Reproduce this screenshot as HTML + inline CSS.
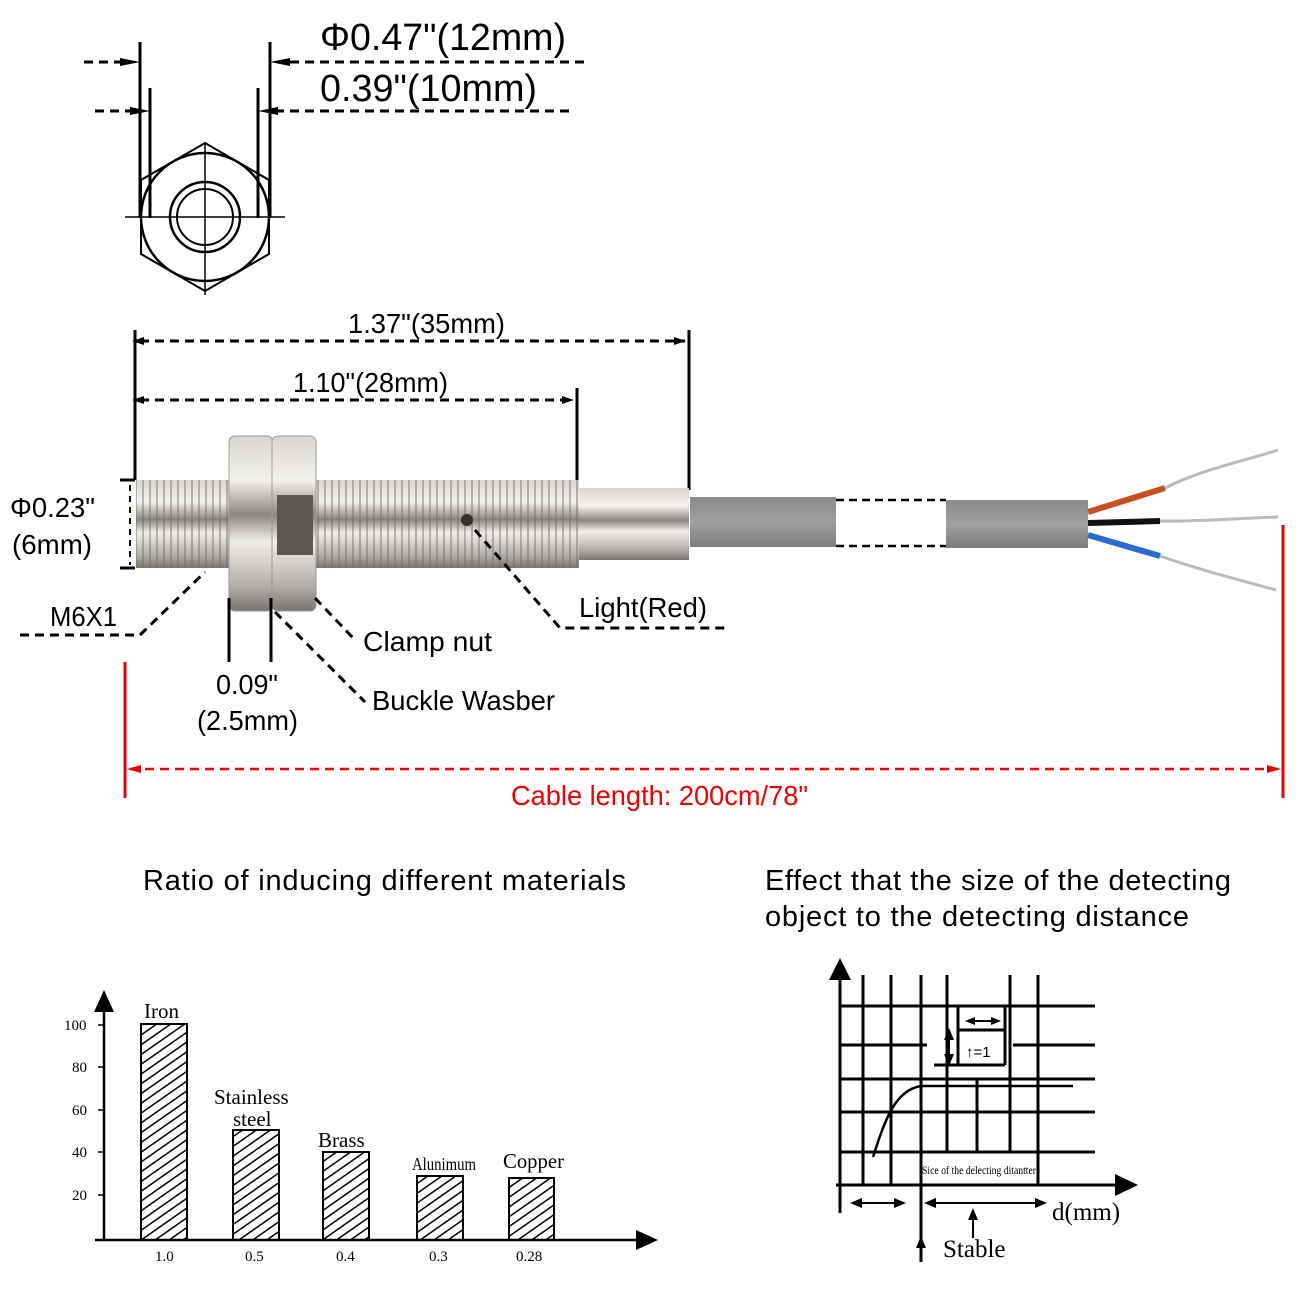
<!DOCTYPE html>
<html><head><meta charset="utf-8"><style>
body{margin:0;background:#fff}
svg{display:block}
.s{font-family:"Liberation Sans",sans-serif}
.r{font-family:"Liberation Serif",serif}
</style></head><body>
<svg width="1300" height="1300" viewBox="0 0 1300 1300" xmlns="http://www.w3.org/2000/svg">
<defs>
<pattern id="h" width="8" height="8" patternUnits="userSpaceOnUse" patternTransform="rotate(55)"><line x1="0" y1="0" x2="0" y2="8" stroke="#000" stroke-width="3"/></pattern>
<linearGradient id="m" x1="0" y1="0" x2="0" y2="1">
<stop offset="0" stop-color="#d8d5d0"/><stop offset="0.25" stop-color="#f4f2ee"/><stop offset="0.45" stop-color="#8a8580"/><stop offset="0.6" stop-color="#f0eee9"/><stop offset="0.85" stop-color="#b5b0aa"/><stop offset="1" stop-color="#7a7570"/></linearGradient>
<pattern id="th" width="7" height="100" patternUnits="userSpaceOnUse"><line x1="3" y1="0" x2="3" y2="100" stroke="#6e6a66" stroke-width="1.5" opacity="0.6"/></pattern>
<linearGradient id="c" x1="0" y1="0" x2="0" y2="1"><stop offset="0" stop-color="#8a8a8a"/><stop offset="0.5" stop-color="#a0a0a0"/><stop offset="1" stop-color="#7d7d7d"/></linearGradient>
</defs>
<g stroke="#000" stroke-width="3" fill="none">
<line x1="140" y1="42" x2="140" y2="218"/><line x1="270" y1="42" x2="270" y2="218"/>
<line x1="150" y1="88" x2="150" y2="218"/><line x1="258" y1="88" x2="258" y2="218"/>
<line x1="84" y1="62" x2="130" y2="62" stroke-dasharray="9,6"/>
<line x1="290" y1="62" x2="588" y2="62" stroke-dasharray="9,6"/>
<line x1="95" y1="111" x2="140" y2="111" stroke-dasharray="9,6"/>
<line x1="275" y1="111" x2="572" y2="111" stroke-dasharray="9,6"/>
<polygon points="205,143 269,180 269,254 205,291 141,254 141,180" stroke-width="2"/>
<circle cx="205" cy="217" r="64" stroke-width="2.5"/>
<circle cx="205" cy="217" r="35" stroke-width="2.5"/>
<circle cx="205" cy="217" r="28" stroke-width="2"/>
<line x1="125" y1="217" x2="285" y2="217" stroke-width="1.5"/><line x1="205" y1="143" x2="205" y2="295" stroke-width="1.5"/>
<line x1="135" y1="330" x2="135" y2="480"/><line x1="689" y1="330" x2="689" y2="490"/><line x1="577" y1="388" x2="577" y2="485"/>
<line x1="140" y1="341" x2="685" y2="341" stroke-dasharray="9,6"/>
<line x1="140" y1="400" x2="572" y2="400" stroke-dasharray="9,6"/>
<line x1="120" y1="480" x2="135" y2="480"/><line x1="120" y1="568" x2="135" y2="568"/>
<line x1="130" y1="485" x2="130" y2="565" stroke-dasharray="6,5" stroke-width="2"/>
</g>
<g fill="#000"><polygon points="132,341 144,337 144,345"/><polygon points="686,341 674,337 674,345"/>
<polygon points="132,400 144,396 144,404"/><polygon points="574,400 562,396 562,404"/>
<polygon points="140,62 120,58 120,66"/><polygon points="270,62 290,58 290,66"/>
<polygon points="150,111 130,107 130,115"/><polygon points="258,111 278,107 278,115"/></g>
<rect x="136" y="480" width="443" height="88" fill="url(#m)"/>
<rect x="136" y="480" width="443" height="88" fill="url(#th)"/>
<rect x="579" y="488" width="110" height="72" fill="url(#m)"/>
<rect x="229" y="436" width="44" height="175" rx="6" fill="url(#m)" stroke="#999"/>
<rect x="272" y="436" width="44" height="175" rx="6" fill="url(#m)" stroke="#999"/>
<rect x="277" y="495" width="36" height="60" fill="#5a5754"/>
<circle cx="467" cy="520" r="6" fill="#333"/>
<rect x="690" y="497" width="146" height="50" fill="url(#c)"/>
<rect x="946" y="500" width="142" height="48" fill="url(#c)"/>
<g stroke="#000" stroke-width="2.5" stroke-dasharray="8,5"><line x1="836" y1="500" x2="946" y2="500"/><line x1="836" y1="546" x2="946" y2="546"/></g>
<g stroke-width="6" fill="none"><path d="M1088,512 L1165,488" stroke="#c4521e"/><path d="M1088,523 L1160,521" stroke="#111"/><path d="M1088,535 L1160,556" stroke="#2a6ad0"/></g>
<g stroke="#bbb" stroke-width="3" fill="none"><path d="M1165,488 C1200,470 1240,462 1278,450"/><path d="M1160,521 C1200,522 1240,518 1278,517"/><path d="M1160,556 C1200,570 1240,580 1276,590"/></g>
<g stroke="#000" stroke-width="3" fill="none" stroke-dasharray="9,6">
<polyline points="20,635 140,635 205,572"/>
<line x1="315" y1="598" x2="355" y2="640"/>
<line x1="275" y1="612" x2="365" y2="702"/>
<polyline points="475,530 560,628 728,628"/>
</g>
<g stroke="#000" stroke-width="3"><line x1="229" y1="598" x2="229" y2="662"/><line x1="271" y1="598" x2="271" y2="662"/></g>
<g stroke="#e00" stroke-width="3"><line x1="125" y1="662" x2="125" y2="798"/><line x1="1283" y1="525" x2="1283" y2="798"/>
<line x1="130" y1="769" x2="1278" y2="769" stroke-dasharray="9,6" stroke-width="2.5"/></g>
<g fill="#e00"><polygon points="127,769 141,765 141,773"/><polygon points="1281,769 1267,765 1267,773"/></g>
<g class="s" font-size="38"><text x="320" y="50" textLength="246" lengthAdjust="spacingAndGlyphs">Φ0.47"(12mm)</text><text x="320" y="101" textLength="217" lengthAdjust="spacingAndGlyphs">0.39"(10mm)</text></g>
<g class="s" font-size="28">
<text x="348" y="333" textLength="157" lengthAdjust="spacingAndGlyphs">1.37"(35mm)</text><text x="293" y="392" textLength="155" lengthAdjust="spacingAndGlyphs">1.10"(28mm)</text>
<text x="10" y="517" textLength="85" lengthAdjust="spacingAndGlyphs">Φ0.23"</text><text x="12" y="554" textLength="80" lengthAdjust="spacingAndGlyphs">(6mm)</text>
<text x="50" y="626" textLength="67" lengthAdjust="spacingAndGlyphs">M6X1</text><text x="579" y="617" textLength="128" lengthAdjust="spacingAndGlyphs">Light(Red)</text>
<text x="363" y="651" textLength="129" lengthAdjust="spacingAndGlyphs">Clamp nut</text><text x="372" y="710" textLength="183" lengthAdjust="spacingAndGlyphs">Buckle Wasber</text>
<text x="216" y="694" textLength="62" lengthAdjust="spacingAndGlyphs">0.09"</text><text x="197" y="730" textLength="101" lengthAdjust="spacingAndGlyphs">(2.5mm)</text>
<text x="511" y="805" fill="#e00" textLength="297" lengthAdjust="spacingAndGlyphs">Cable length: 200cm/78"</text>
</g>
<g class="s" font-size="29"><text x="143" y="890" textLength="483">Ratio of inducing different materials</text>
<text x="765" y="890" textLength="466">Effect that the size of the detecting</text><text x="765" y="926" textLength="424">object to the detecting distance</text></g>
<g stroke="#000" stroke-width="2.5"><line x1="104" y1="1010" x2="104" y2="1240"/><line x1="95" y1="1240" x2="640" y2="1240"/>
<g stroke-width="1.5"><line x1="98" y1="1025" x2="104" y2="1025"/><line x1="98" y1="1067" x2="104" y2="1067"/><line x1="98" y1="1110" x2="104" y2="1110"/><line x1="98" y1="1152" x2="104" y2="1152"/><line x1="98" y1="1195" x2="104" y2="1195"/></g></g>
<polygon points="104,990 94,1012 114,1012"/><polygon points="658,1240 636,1230 636,1250"/>
<g stroke="#000" stroke-width="2" fill="url(#h)">
<rect x="141" y="1024" width="46" height="216"/><rect x="233" y="1130" width="46" height="110"/><rect x="323" y="1152" width="46" height="88"/><rect x="417" y="1176" width="46" height="64"/><rect x="509" y="1178" width="45" height="62"/></g>
<g class="r" font-size="15"><text x="64" y="1030">100</text><text x="72" y="1072">80</text><text x="72" y="1115">60</text><text x="72" y="1157">40</text><text x="72" y="1200">20</text>
<text x="155" y="1261">1.0</text><text x="245" y="1261">0.5</text><text x="336" y="1261">0.4</text><text x="429" y="1261">0.3</text><text x="516" y="1261">0.28</text></g>
<g class="r" font-size="21"><text x="144" y="1018">Iron</text><text x="214" y="1104">Stainless</text><text x="233" y="1126">steel</text><text x="318" y="1147">Brass</text><text x="412" y="1170" font-size="18" textLength="64" lengthAdjust="spacingAndGlyphs">Alunimum</text><text x="503" y="1168" textLength="61" lengthAdjust="spacingAndGlyphs">Copper</text></g>
<g stroke="#000" stroke-width="3" fill="none">
<line x1="840" y1="975" x2="840" y2="1213"/><line x1="836" y1="1185" x2="1120" y2="1185"/>
<line x1="863" y1="975" x2="863" y2="1185"/><line x1="891" y1="975" x2="891" y2="1185"/><line x1="921" y1="975" x2="921" y2="1262"/>
<line x1="947" y1="975" x2="947" y2="1152"/><line x1="977" y1="1080" x2="977" y2="1152"/><line x1="1010" y1="975" x2="1010" y2="1152"/><line x1="1038" y1="975" x2="1038" y2="1185"/>
<line x1="840" y1="1006" x2="1095" y2="1006"/><line x1="840" y1="1045" x2="927" y2="1045"/><line x1="1013" y1="1045" x2="1095" y2="1045"/>
<line x1="934" y1="1065" x2="1005" y2="1065"/><line x1="958" y1="1006" x2="958" y2="1065"/><line x1="1005" y1="1006" x2="1005" y2="1065"/><line x1="958" y1="1030" x2="1005" y2="1030"/>
<line x1="840" y1="1079" x2="1095" y2="1079"/><line x1="840" y1="1112" x2="1095" y2="1112"/><line x1="840" y1="1152" x2="1095" y2="1152"/>
<path d="M873,1157 C885,1120 895,1090 921,1086 L1073,1086" stroke-width="2.5"/>
<g stroke-width="2"><line x1="855" y1="1203" x2="902" y2="1203"/><line x1="928" y1="1203" x2="1042" y2="1203"/><line x1="973" y1="1212" x2="973" y2="1238"/><line x1="949" y1="1032" x2="949" y2="1062"/><line x1="968" y1="1021" x2="997" y2="1021"/></g>
</g>
<g fill="#000"><polygon points="840,958 829,980 851,980"/><polygon points="1138,1185 1115,1174 1115,1196"/>
<polygon points="850,1203 862,1198 862,1208"/><polygon points="906,1203 894,1198 894,1208"/><polygon points="924,1203 936,1198 936,1208"/><polygon points="1047,1203 1035,1198 1035,1208"/>
<polygon points="973,1208 968,1220 978,1220"/><polygon points="921,1236 916,1248 926,1248"/>
<polygon points="949,1028 944,1040 954,1040"/><polygon points="949,1066 944,1054 954,1054"/><polygon points="965,1021 975,1017 975,1025"/><polygon points="1001,1021 991,1017 991,1025"/></g>
<g class="r"><text x="966" y="1057" font-size="15" font-family="Liberation Sans">↑=1</text>
<text x="922" y="1174" font-size="12" textLength="114" lengthAdjust="spacingAndGlyphs">Sice of the delecting ditantter</text>
<text x="1052" y="1220" font-size="25">d(mm)</text><text x="943" y="1257" font-size="25">Stable</text></g>
</svg>
</body></html>
